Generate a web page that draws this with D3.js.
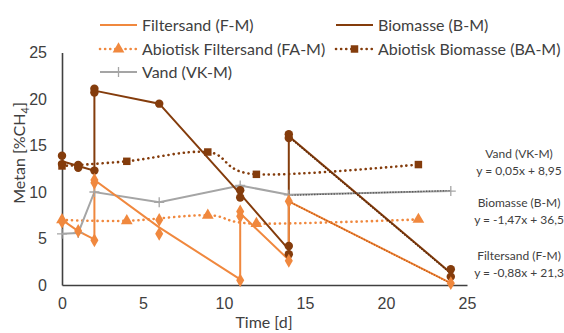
<!DOCTYPE html>
<html>
<head>
<meta charset="utf-8">
<script src="https://cdn.jsdelivr.net/npm/d3@7"></script>
<style>
  html, body { margin: 0; padding: 0; background: #fff; }
  svg { display: block; font-family: Lato, "Open Sans", sans-serif; }
</style>
</head>
<body>
<svg id="chart" width="564" height="333"></svg>
<script>
// Axis ticks
const xTicks = [0, 5, 10, 15, 20, 25];
const yTicks = [0, 5, 10, 15, 20, 25];

// Filtersand (F-M): line through the mean, diamonds for each replicate
const fmDays = [0, 1, 2, 2, 6, 11, 11, 14, 14, 24];
const fmMean = [7.0, 5.8, 4.9, 11.3, 6.2, 0.6, 7.7, 2.7, 9.0, 0.2];
const fmRepDays = [0, 1, 2, 2, 2, 6, 6, 11, 11, 11, 14, 14, 24];
const fmRepVals = [6.8, 5.8, 4.8, 11.3, 11.0, 7.0, 5.5, 0.5, 7.9, 7.4, 2.6, 9.0, 0.2];

// Biomasse (B-M)
const bmDays = [0, 1, 2, 2, 6, 11, 14, 14, 24];
const bmMean = [13.3, 12.8, 12.3, 20.9, 19.5, 9.8, 3.8, 16.0, 1.3];
const bmRepDays = [0, 0, 1, 1, 2, 2, 2, 6, 11, 11, 14, 14, 14, 14, 24, 24];
const bmRepVals = [13.9, 13.0, 12.9, 12.6, 12.3, 21.1, 20.7, 19.5, 10.2, 9.4, 4.2, 3.3, 16.2, 15.8, 1.7, 0.9];

// Abiotisk Filtersand (FA-M)
const faDays = [0, 4, 9, 12, 22];
const faVals = [7.0, 6.9, 7.5, 6.6, 7.05];

// Abiotisk Biomasse (BA-M)
const baDays = [0, 4, 9, 12, 22];
const baVals = [12.8, 13.3, 14.3, 11.9, 12.95];

// Vand (VK-M)
const vkDays = [0, 1, 2, 6, 11, 14, 24];
const vkVals = [5.5, 5.6, 10.0, 8.9, 10.7, 9.7, 10.1];

// Linear trend lines fitted over day 14-24
const trendNames = ["Vand (VK-M)", "Biomasse (B-M)", "Filtersand (F-M)"];
const trendSlopes = [0.05, -1.47, -0.88];
const trendIntercepts = [8.95, 36.5, 21.3];
const trendEquations = ["y = 0,05x + 8,95", "y = -1,47x + 36,5", "y = -0,88x + 21,3"];
const trendRange = [14, 24];

const C = {
  fm: "#F0883E",
  bm: "#843C0C",
  fa: "#F0883E",
  ba: "#843C0C",
  vk: "#A5A5A5",
  axis: "#404040",
  text: "#404040"
};

const svg = d3.select("#chart");
const x = d3.scaleLinear().domain([0, 25]).range([62, 467]);
const y = d3.scaleLinear().domain([0, 25]).range([285, 52.5]);

const zip = (xs, ys) => xs.map((d, i) => [d, ys[i]]);
const straight = d3.line().x(d => x(d[0])).y(d => y(d[1]));
const smooth = d3.line().x(d => x(d[0])).y(d => y(d[1])).curve(d3.curveCardinal.tension(0));

// Axes
const gx = svg.append("g").attr("transform", `translate(0,${y(0)})`)
  .call(d3.axisBottom(x).tickValues(xTicks).tickSize(0).tickSizeOuter(0).tickPadding(13));
const gy = svg.append("g").attr("transform", `translate(${x(0)},0)`)
  .call(d3.axisLeft(y).tickValues(yTicks).tickSize(0).tickSizeOuter(0).tickPadding(15));
[gx, gy].forEach(g => {
  g.select(".domain").attr("stroke", C.axis).attr("stroke-width", 1.6);
  g.selectAll("text").attr("fill", C.text).attr("font-size", 16).attr("font-family", null);
});

svg.append("text").attr("x", 264).attr("y", 328).attr("text-anchor", "middle")
  .attr("fill", C.text).attr("font-size", 16).text("Time [d]");

const yTitle = svg.append("text")
  .attr("transform", "translate(25,153) rotate(-90)")
  .attr("text-anchor", "middle").attr("fill", C.text).attr("font-size", 16);
yTitle.append("tspan").text("Metan [%CH");
yTitle.append("tspan").attr("font-size", 11).attr("dy", 4).text("4");
yTitle.append("tspan").attr("dy", -4).text("]");

// Marker shapes
const sym = {
  circle: d3.symbol().type(d3.symbolCircle).size(56),
  diamond: d3.symbol().type(d3.symbolDiamond).size(56),
  triangle: d3.symbol().type(d3.symbolTriangle).size(60),
  square: d3.symbol().type(d3.symbolSquare).size(56)
};

function markers(pts, shape, color) {
  svg.append("g").selectAll("path").data(pts).join("path")
    .attr("transform", d => `translate(${x(d[0])},${y(d[1])})`)
    .attr("d", sym[shape]).attr("fill", color);
}
function crosses(pts, color) {
  svg.append("g").selectAll("path").data(pts).join("path")
    .attr("d", d => `M${x(d[0]) - 5},${y(d[1])}h10M${x(d[0])},${y(d[1]) - 5}v10`)
    .attr("stroke", color).attr("stroke-width", 1.3);
}
function dotted(sel, color) {
  return sel.attr("fill", "none").attr("stroke", color).attr("stroke-width", 2.6)
    .attr("stroke-linecap", "round").attr("stroke-dasharray", "0.1 5");
}

// Abiotic controls (dotted, smoothed)
dotted(svg.append("path").attr("d", smooth(zip(faDays, faVals))), C.fa);
dotted(svg.append("path").attr("d", smooth(zip(baDays, baVals))), C.ba);

// Water control
svg.append("path").attr("d", straight(zip(vkDays, vkVals)))
  .attr("fill", "none").attr("stroke", C.vk).attr("stroke-width", 2);

// Reactors
svg.append("path").attr("d", straight(zip(bmDays, bmMean)))
  .attr("fill", "none").attr("stroke", C.bm).attr("stroke-width", 2);
svg.append("path").attr("d", straight(zip(fmDays, fmMean)))
  .attr("fill", "none").attr("stroke", C.fm).attr("stroke-width", 2);

// Trend lines
const trendColors = ["#595959", "#5A2808", "#C55A11"];
trendSlopes.forEach((m, i) => {
  const pts = trendRange.map(t => [t, m * t + trendIntercepts[i]]);
  svg.append("path").attr("d", straight(pts)).attr("fill", "none")
    .attr("stroke", trendColors[i]).attr("stroke-width", 1.4)
    .attr("stroke-dasharray", "1.4 1.4");
});

crosses(zip(vkDays, vkVals), C.vk);
markers(zip(faDays, faVals), "triangle", C.fa);
markers(zip(baDays, baVals), "square", C.ba);
markers(zip(bmRepDays, bmRepVals), "circle", C.bm);
markers(zip(fmRepDays, fmRepVals), "diamond", C.fm);

// Trend line labels
const tl = svg.append("g").attr("fill", C.text).attr("font-size", 12).attr("text-anchor", "middle");
const trendY = [158, 207, 260];
trendNames.forEach((n, i) => {
  tl.append("text").attr("x", 519).attr("y", trendY[i]).text(n);
  tl.append("text").attr("x", 519).attr("y", trendY[i] + 17).text(trendEquations[i]);
});

// Legend
const legend = [
  { name: "Filtersand (F-M)", color: C.fm, kind: "solid", col: 0, row: 0 },
  { name: "Biomasse (B-M)", color: C.bm, kind: "solid", col: 1, row: 0 },
  { name: "Abiotisk Filtersand (FA-M)", color: C.fa, kind: "dot", shape: "triangle", col: 0, row: 1 },
  { name: "Abiotisk Biomasse (BA-M)", color: C.ba, kind: "dot", shape: "square", col: 1, row: 1 },
  { name: "Vand (VK-M)", color: C.vk, kind: "cross", col: 0, row: 2 }
];
const colX = [100, 336];
const rowY = [25, 49, 72];
legend.forEach(d => {
  const g = svg.append("g").attr("transform", `translate(${colX[d.col]},${rowY[d.row]})`);
  const ln = g.append("line").attr("x1", 0).attr("x2", 37).attr("y1", 0).attr("y2", 0);
  if (d.kind === "dot") {
    dotted(ln, d.color);
    g.append("path").attr("transform", "translate(18.5,0)").attr("d", sym[d.shape]).attr("fill", d.color);
  } else {
    ln.attr("stroke", d.color).attr("stroke-width", 2);
    if (d.kind === "cross") g.append("path").attr("d", "M18.5,-5v10").attr("stroke", d.color).attr("stroke-width", 1.3);
  }
  g.append("text").attr("x", 42).attr("y", 0).attr("dy", "0.35em")
    .attr("fill", C.text).attr("font-size", 16).text(d.name);
});
</script>
</body>
</html>
